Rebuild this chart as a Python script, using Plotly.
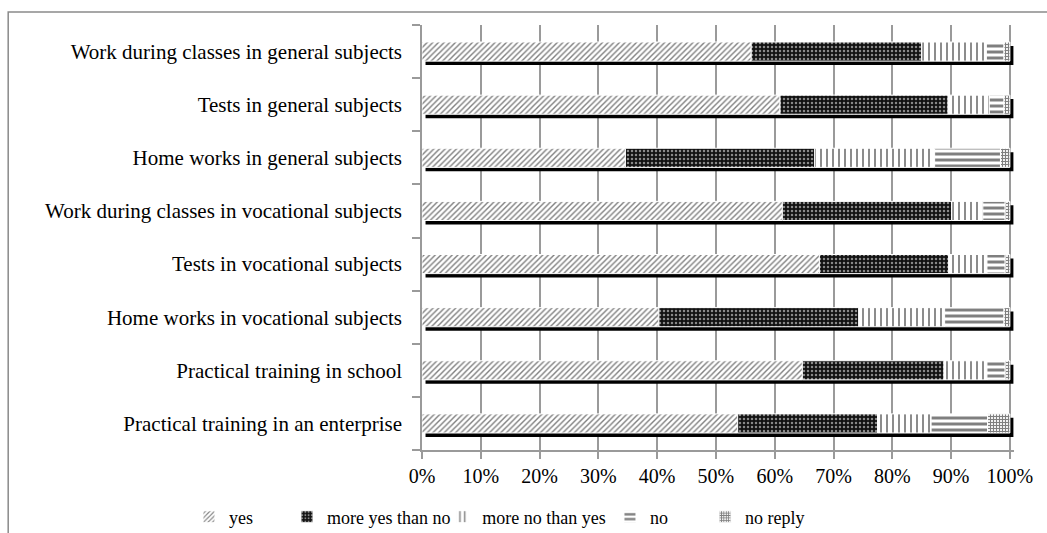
import numpy as np
import plotly.graph_objects as go

# Survey items, listed top to bottom
categories = [
    "Work during classes in general subjects",
    "Tests in general subjects",
    "Home works in general subjects",
    "Work during classes in vocational subjects",
    "Tests in vocational subjects",
    "Home works in vocational subjects",
    "Practical training in school",
    "Practical training in an enterprise",
]

# Share of answers (%) per item
yes = [56.0, 60.9, 34.6, 61.3, 67.6, 40.3, 64.7, 53.7]
more_yes_than_no = [29.0, 28.6, 32.2, 28.8, 22.0, 34.0, 24.1, 23.8]
more_no_than_yes = [11.0, 7.0, 20.4, 5.3, 6.5, 14.6, 7.3, 9.1]
no = [3.0, 2.5, 11.2, 3.8, 3.1, 10.1, 3.1, 9.6]
no_reply = [1.0, 1.0, 1.6, 0.8, 0.8, 1.0, 0.8, 3.8]

x_ticks = [0, 10, 20, 30, 40, 50, 60, 70, 80, 90, 100]

series = [
    ("yes", yes, dict(shape="/", fgcolor="#000", bgcolor="#fff", size=4, solidity=0.35)),
    ("more yes than no", more_yes_than_no, dict(shape=".", fgcolor="#fff", bgcolor="#111", size=4, solidity=0.3)),
    ("more no than yes", more_no_than_yes, dict(shape="|", fgcolor="#000", bgcolor="#fff", size=6, solidity=0.3)),
    ("no", no, dict(shape="-", fgcolor="#000", bgcolor="#fff", size=6, solidity=0.5)),
    ("no reply", no_reply, dict(shape="+", fgcolor="#000", bgcolor="#fff", size=3, solidity=0.65)),
]

# horizontal placement of each legend entry (fraction of figure width)
legend_x = [0.1805, 0.2741, 0.4225, 0.5826, 0.6734]

pos = np.arange(len(categories))
bar_w = 0.36
serif = "Liberation Serif"
grid = "#9a9a9a"

fig = go.Figure()

# drop shadow behind each stacked bar
totals = np.sum([s[1] for s in series], axis=0)
fig.add_trace(go.Bar(
    y=pos + 0.075, x=totals, base=0.6, orientation="h", width=bar_w,
    marker=dict(color="#000", line=dict(width=0)),
    showlegend=False, hoverinfo="skip",
))

base = np.zeros(len(categories))
legends = {}
for i, (name, vals, pat) in enumerate(series):
    vals = np.array(vals)
    lg = "legend" if i == 0 else f"legend{i + 1}"
    fig.add_trace(go.Bar(
        y=pos, x=vals, base=base.copy(), orientation="h", name=name, width=bar_w,
        marker=dict(color="#fff", pattern=pat, line=dict(color="#fff", width=1)),
        legend=lg,
    ))
    legends[lg] = dict(
        orientation="h", xref="container", yref="container",
        x=legend_x[i], xanchor="left", y=0.03, yanchor="middle",
        font=dict(family=serif, size=18), bgcolor="rgba(0,0,0,0)",
    )
    base += vals

# plot area spans 0..100 % over 588 px; range padded so the shadow is not clipped
x_max = 100.7
plot_w = 588 * x_max / 100

fig.update_layout(
    width=1047, height=533,
    barmode="overlay",
    paper_bgcolor="#fff", plot_bgcolor="#fff",
    margin=dict(l=422, r=1047 - 422 - plot_w, t=25, b=83, autoexpand=False),
    font=dict(family=serif, size=18, color="#000"),
    xaxis=dict(
        range=[0, x_max], tickvals=x_ticks, ticktext=[f"{t}%" for t in x_ticks],
        showgrid=True, gridcolor=grid, gridwidth=1.5,
        showline=True, linecolor=grid, linewidth=1.5,
        ticks="outside", ticklen=7, tickcolor=grid, tickwidth=1.5,
        ticklabelstandoff=0,
        tickfont=dict(family=serif, size=20), zeroline=False, fixedrange=True,
    ),
    yaxis=dict(
        range=[len(categories) - 0.5, -0.5],
        tickvals=list(pos), ticktext=categories,
        ticks="outside", ticklen=14, tickcolor="rgba(0,0,0,0)",
        minor=dict(tickvals=list(np.arange(len(categories) + 1) - 0.5),
                   ticks="outside", ticklen=8, tickcolor=grid, tickwidth=1.5),
        showline=True, linecolor=grid, linewidth=1.5,
        showgrid=False, zeroline=False, tickfont=dict(family=serif, size=21),
        fixedrange=True,
    ),
    shapes=[dict(type="rect", xref="paper", yref="paper",
                 x0=-0.699, x1=1.2, y0=-0.4, y1=1.0306,
                 line=dict(color="#8a8a8a", width=1.5), layer="below")],
    **legends,
)

fig.write_html("out.html")
